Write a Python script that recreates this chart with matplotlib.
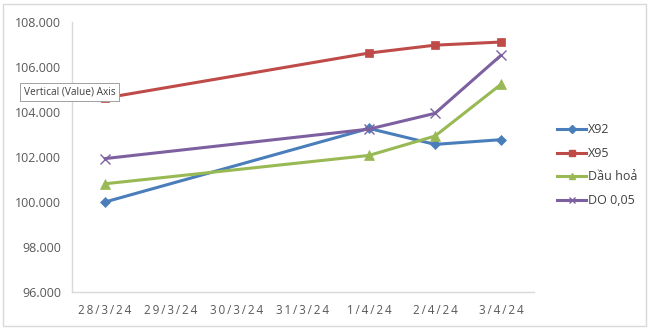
import matplotlib
matplotlib.use("Agg")
import matplotlib.pyplot as plt
from matplotlib.patches import Rectangle
from matplotlib.lines import Line2D

categories = ["28/3/24", "29/3/24", "30/3/24", "31/3/24", "1/4/24", "2/4/24", "3/4/24"]
point_dates = ["28/3/24", "1/4/24", "2/4/24", "3/4/24"]
x92 = [100.00, 103.27, 102.56, 102.77]
x95 = [104.62, 106.62, 106.97, 107.11]
dau_hoa = [100.81, 102.07, 102.93, 105.23]
do005 = [101.93, 103.24, 103.94, 106.52]
series_names = ["X92", "X95", "Dầu hoả", "DO 0,05"]
y_ticks = [96, 98, 100, 102, 104, 106, 108]

plt.rcParams['font.family'] = ['Open Sans', 'DejaVu Sans']

fig = plt.figure(figsize=(6.5, 3.3), dpi=100)
ax = fig.add_axes([72/650, 1-292/330, (534-72)/650, (292-22)/330])

xs = [categories.index(d) for d in point_dates]
styles = [
    (x92, "#4A7EBB", "D", 5.5),
    (x95, "#BE4B48", "s", 6),
    (dau_hoa, "#98B954", "^", 7),
    (do005, "#7D60A0", "x", 7),
]
handles = []
for (vals, color, mk, ms), name in zip(styles, series_names):
    ln, = ax.plot(xs, vals, color=color, lw=2.2, marker=mk, markersize=ms,
                  markeredgewidth=1.0 if mk == "x" else 0.5, markeredgecolor=color,
                  markerfacecolor=color, label=name, solid_capstyle="round")
    handles.append(ln)

ax.set_xlim(-0.5, len(categories) - 0.5)
ax.set_ylim(96, 108)
ax.set_xticks(range(len(categories)))
ax.set_xticklabels(["\u2009".join(c) for c in categories])
ax.set_yticks(y_ticks)
ax.set_yticklabels([f"{v:.3f}" for v in y_ticks])
ax.tick_params(length=0, colors="#595959", labelsize=9, pad=8)
ax.tick_params(axis="x", pad=9)
for lab in ax.get_xticklabels():
    lab.set_fontsize(8.4)
for s in ["top", "right"]:
    ax.spines[s].set_visible(False)
for s in ["left", "bottom"]:
    ax.spines[s].set_color("#D9D9D9")
    ax.spines[s].set_linewidth(1)

leg_handles = [Line2D([0], [0], color=h.get_color(), lw=2.2, marker=h.get_marker(),
                      markersize=4.5, markerfacecolor=h.get_color(),
                      markeredgecolor=h.get_color()) for h in handles]
fig.legend(leg_handles, series_names, loc="upper left", bbox_to_anchor=(546/650, 1-112/330),
           frameon=False, fontsize=9, handlelength=2.3, labelspacing=0.85,
           handletextpad=0.15, labelcolor="#404040")

# chart border
fig.patches.append(Rectangle((3/650, 4/330), 643/650, 322/330, transform=fig.transFigure,
                             fill=False, edgecolor="#D9D9D9", lw=1))

# tooltip
fig.text(24/650, 1-92/330, "Vertical (Value) Axis", fontsize=7.3, color="#404040",
         va="center", ha="left",
         bbox=dict(boxstyle="square,pad=0.35", fc="white", ec="#A0A0A0", lw=0.7))

fig.savefig("out.png", dpi=100)
